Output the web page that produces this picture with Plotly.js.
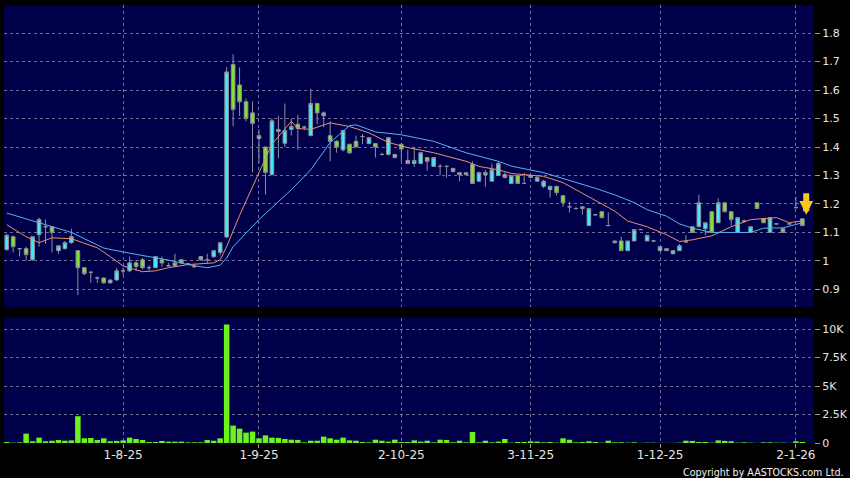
<!DOCTYPE html>
<html>
<head>
<meta charset="utf-8">
<script src="https://cdn.plot.ly/plotly-3.0.1.min.js"></script>
<style>html,body{margin:0;padding:0;background:#000;}#chart{width:850px;height:478px;}</style>
</head>
<body>
<div id="chart"></div>
<script>
// Trading dates (HK) shown on the chart
const dates = [
'2025-07-08','2025-07-09','2025-07-10','2025-07-11',
'2025-07-14','2025-07-15','2025-07-16','2025-07-17','2025-07-18',
'2025-07-21','2025-07-22','2025-07-23','2025-07-24','2025-07-25',
'2025-07-28','2025-07-29','2025-07-30','2025-07-31',
'2025-08-01',
'2025-08-04','2025-08-05','2025-08-06','2025-08-07','2025-08-08',
'2025-08-11','2025-08-12','2025-08-13','2025-08-14','2025-08-15',
'2025-08-18','2025-08-19','2025-08-20','2025-08-21','2025-08-22',
'2025-08-25','2025-08-26','2025-08-27','2025-08-28','2025-08-29',
'2025-09-01','2025-09-02','2025-09-03','2025-09-04','2025-09-05',
'2025-09-08','2025-09-09','2025-09-10','2025-09-11','2025-09-12',
'2025-09-15','2025-09-16','2025-09-17','2025-09-18','2025-09-19',
'2025-09-22','2025-09-23','2025-09-24','2025-09-25','2025-09-26',
'2025-09-29','2025-09-30',
'2025-10-02','2025-10-03','2025-10-06','2025-10-08','2025-10-09','2025-10-10',
'2025-10-13','2025-10-14','2025-10-15','2025-10-16','2025-10-17',
'2025-10-20','2025-10-21','2025-10-22','2025-10-23','2025-10-24',
'2025-10-27','2025-10-28','2025-10-30','2025-10-31',
'2025-11-03','2025-11-04','2025-11-05','2025-11-06','2025-11-07',
'2025-11-10','2025-11-11','2025-11-12','2025-11-13','2025-11-14',
'2025-11-17','2025-11-18','2025-11-19','2025-11-20','2025-11-21',
'2025-11-24','2025-11-25','2025-11-26','2025-11-27','2025-11-28',
'2025-12-01','2025-12-02','2025-12-03','2025-12-04','2025-12-05',
'2025-12-08','2025-12-09','2025-12-10','2025-12-11','2025-12-12',
'2025-12-15','2025-12-16','2025-12-17','2025-12-18','2025-12-19',
'2025-12-22','2025-12-23','2025-12-24','2025-12-29','2025-12-30','2025-12-31',
'2026-01-02','2026-01-05'
];

const open = [
1.040,1.085,1.043,1.043,1.004,1.092,1.120,1.120,1.036,1.043,
1.064,1.036,0.976,0.960,0.940,0.940,0.923,0.933,0.965,0.965,
0.993,1.004,0.976,0.976,1.004,0.983,0.983,1.004,0.990,0.980,
1.015,1.004,1.015,1.030,1.084,1.690,1.618,1.559,1.520,1.430,
1.400,1.303,1.455,1.413,1.462,1.480,1.470,1.440,1.553,1.520,
1.440,1.420,1.390,1.410,1.420,1.437,1.412,1.412,1.374,1.374,
1.374,1.410,1.353,1.342,1.342,1.363,1.332,1.332,1.332,1.325,
1.310,1.303,1.339,1.280,1.310,1.280,1.300,1.303,1.272,1.300,
1.272,1.300,1.280,1.262,1.250,1.262,1.229,1.190,1.184,1.184,
1.124,1.162,1.173,1.124,1.064,1.070,1.036,1.070,1.110,1.070,
1.070,1.036,1.043,1.025,1.036,1.067,1.120,1.120,1.113,1.173,
1.134,1.204,1.173,1.100,1.140,1.100,1.204,1.148,1.100,1.130,
1.113,1.130,1.187,1.148
];
const high = [
1.095,1.088,1.045,1.050,1.085,1.152,1.145,1.120,1.053,1.070,
1.113,1.036,0.976,0.962,0.945,0.940,0.933,0.976,0.976,1.015,
1.004,1.010,0.985,1.015,1.015,0.993,1.025,1.004,0.993,0.990,
1.015,1.025,1.036,1.064,1.680,1.726,1.680,1.570,1.560,1.462,
1.400,1.500,1.510,1.553,1.500,1.513,1.475,1.603,1.553,1.525,
1.490,1.425,1.460,1.410,1.440,1.445,1.433,1.412,1.380,1.433,
1.374,1.410,1.390,1.400,1.380,1.363,1.363,1.340,1.335,1.325,
1.310,1.310,1.350,1.314,1.320,1.342,1.350,1.310,1.300,1.300,
1.310,1.300,1.300,1.285,1.262,1.262,1.229,1.208,1.190,1.190,
1.184,1.165,1.173,1.170,1.070,1.085,1.070,1.110,1.112,1.090,
1.072,1.050,1.043,1.036,1.060,1.090,1.120,1.233,1.134,1.173,
1.220,1.204,1.173,1.152,1.145,1.120,1.204,1.150,1.152,1.132,
1.113,1.132,1.225,1.148
];
const low = [
1.035,1.030,1.015,1.000,1.000,1.050,1.060,1.030,1.025,1.040,
1.060,0.880,0.950,0.923,0.923,0.920,0.920,0.930,0.950,0.960,
0.965,0.970,0.965,0.975,0.980,0.980,0.980,0.990,0.985,0.975,
1.000,0.993,1.010,1.020,1.080,1.473,1.509,1.490,1.311,1.345,
1.233,1.300,1.360,1.400,1.440,1.390,1.460,1.440,1.480,1.470,
1.350,1.380,1.385,1.375,1.400,1.410,1.410,1.363,1.370,1.370,
1.360,1.350,1.340,1.330,1.340,1.317,1.330,1.300,1.293,1.310,
1.280,1.300,1.270,1.280,1.260,1.280,1.300,1.290,1.270,1.272,
1.272,1.290,1.280,1.255,1.222,1.230,1.190,1.170,1.180,1.162,
1.124,1.160,1.150,1.124,1.060,1.036,1.036,1.070,1.108,1.070,
1.068,1.036,1.036,1.025,1.036,1.065,1.100,1.120,1.090,1.100,
1.134,1.170,1.124,1.100,1.135,1.100,1.184,1.134,1.100,1.128,
1.100,1.128,1.187,1.124
];
const close = [
1.090,1.050,1.043,1.022,1.085,1.145,1.120,1.100,1.053,1.064,
1.085,0.976,0.955,0.960,0.940,0.923,0.933,0.965,0.965,0.993,
0.980,0.976,0.976,1.015,0.993,0.983,0.993,0.993,0.990,0.980,
1.004,1.004,1.036,1.064,1.664,1.532,1.559,1.500,1.483,1.440,
1.311,1.492,1.462,1.458,1.472,1.465,1.470,1.553,1.520,1.510,
1.420,1.400,1.458,1.380,1.400,1.437,1.433,1.400,1.374,1.433,
1.363,1.393,1.342,1.353,1.380,1.350,1.363,1.332,1.332,1.314,
1.303,1.310,1.272,1.310,1.303,1.320,1.342,1.293,1.300,1.272,
1.272,1.293,1.293,1.280,1.262,1.240,1.205,1.190,1.184,1.190,
1.184,1.162,1.152,1.124,1.070,1.036,1.070,1.110,1.110,1.090,
1.070,1.050,1.036,1.036,1.053,1.067,1.100,1.204,1.134,1.100,
1.204,1.173,1.145,1.152,1.140,1.120,1.184,1.134,1.152,1.130,
1.100,1.130,1.187,1.124
];
const volume = [
90,30,60,820,150,470,150,200,260,200,
230,2350,410,440,260,410,150,180,230,470,
350,260,90,90,180,120,120,120,60,60,
60,260,200,410,10400,1530,1260,910,1000,410,
670,470,450,350,290,270,60,200,200,560,
410,290,470,230,200,90,60,290,200,120,
290,90,90,230,120,200,60,290,260,60,
200,60,970,60,200,60,120,350,30,90,
90,150,120,60,90,30,410,290,60,90,
150,90,30,200,60,60,30,60,10,30,
30,10,10,10,30,200,180,90,90,30,
230,180,150,30,60,30,10,60,60,30,
30,10,150,90
];

// Moving averages (candle index -> value)
const maShortIdx = [0,3,5,7,10,14,16,18,21,23,25,28,32,33,34,36,39,41,44,45,47,50,53,56,59,62,66,71,73,76,78,83,86,88,91,94,96,99,102,104,106,109,112,115,119,121,123];
const maShortVal = [1.127,1.085,1.064,1.081,1.078,1.046,1.015,0.982,0.962,0.965,0.976,0.987,0.993,1.004,1.05,1.16,1.31,1.41,1.49,1.465,1.462,1.485,1.472,1.45,1.416,1.398,1.38,1.35,1.332,1.32,1.307,1.297,1.275,1.25,1.215,1.175,1.14,1.12,1.092,1.068,1.074,1.088,1.12,1.145,1.152,1.134,1.141];
const maLongIdx = [0,5,10,15,19,25,28,31,33,34,35,39,44,47,50,53,54,57,61,66,71,76,78,83,88,91,94,97,99,102,104,106,109,112,115,117,120,123];
const maLongVal = [1.168,1.134,1.10,1.045,1.027,1.003,0.987,0.976,0.985,1.01,1.05,1.145,1.25,1.32,1.416,1.475,1.478,1.453,1.443,1.42,1.38,1.35,1.333,1.31,1.277,1.255,1.232,1.205,1.18,1.157,1.13,1.115,1.10,1.10,1.10,1.115,1.116,1.134];

const tickDates = ['2025-08-01','2025-09-01','2025-10-02','2025-11-03','2025-12-01','2026-01-02'];
const tickLabels = ['1-8-25','1-9-25','2-10-25','3-11-25','1-12-25','2-1-26'];
const priceTicks = [0.9,1.0,1.1,1.2,1.3,1.4,1.5,1.6,1.7,1.8];
const priceLabels = ['0.9','1','1.1','1.2','1.3','1.4','1.5','1.6','1.7','1.8'];
const volTicks = [0,2500,5000,7500,10000];
const volLabels = ['0','2.5K','5K','7.5K','10K'];

const gridColor = 'rgba(150,150,175,0.75)';
const tickFont = {family:'DejaVu Sans, Verdana, sans-serif', size:11, color:'#e6e6e6'};

const traces = [
  {
    type:'candlestick', x:dates, open:open, high:high, low:low, close:close,
    xaxis:'x2', yaxis:'y2', hoverinfo:'skip',
    increasing:{line:{color:'#8f8f9a', width:1}, fillcolor:'#40ecf8'},
    decreasing:{line:{color:'#8f8f9a', width:1}, fillcolor:'#80e42a'},
    whiskerwidth:0, showlegend:false
  },
  {
    type:'scatter', mode:'lines', x:maShortIdx.map(i=>dates[i]), y:maShortVal,
    xaxis:'x2', yaxis:'y2', line:{color:'#e8926a', width:1}, hoverinfo:'skip', showlegend:false
  },
  {
    type:'scatter', mode:'lines', x:maLongIdx.map(i=>dates[i]), y:maLongVal,
    xaxis:'x2', yaxis:'y2', line:{color:'#5ab2ee', width:1}, hoverinfo:'skip', showlegend:false
  },
  {
    type:'bar', x:dates, y:volume, xaxis:'x', yaxis:'y',
    marker:{color:'#6cf21c', line:{width:0}}, hoverinfo:'skip', showlegend:false
  }
];

const xBase = {
  type:'category', categoryorder:'array', categoryarray:dates,
  range:[-0.42,124.8], tickmode:'array', tickvals:tickDates, ticktext:tickLabels,
  showgrid:true, gridcolor:gridColor, griddash:'3px,3px', gridwidth:1,
  zeroline:false, showline:false, fixedrange:true
};

const layout = {
  width:850, height:478,
  margin:{l:4, r:36, t:5, b:35},
  paper_bgcolor:'#000000', plot_bgcolor:'#00004a',
  bargap:0.15, boxgap:0.2,
  xaxis: Object.assign({}, xBase, {anchor:'y', ticks:'outside', ticklen:4, tickcolor:'#9a9a9a',
    ticklabelstandoff:-3,
    tickfont:{family:'DejaVu Sans, Verdana, sans-serif', size:12, color:'#e6e6e6'}, rangeslider:{visible:false}}),
  xaxis2: Object.assign({}, xBase, {anchor:'y2', showticklabels:false, ticks:'', rangeslider:{visible:false}}),
  yaxis: {domain:[0,0.2854], range:[0,10970], side:'right', tickmode:'array', tickvals:volTicks, ticktext:volLabels,
    ticks:'outside', ticklen:5, tickcolor:'#9a9a9a', tickfont:tickFont,
    showgrid:true, gridcolor:gridColor, griddash:'3px,3px', zeroline:false, showline:false, automargin:false, fixedrange:true},
  yaxis2: {domain:[0.3105,1], range:[0.838,1.899], side:'right', tickmode:'array', tickvals:priceTicks, ticktext:priceLabels,
    ticks:'outside', ticklen:5, tickcolor:'#9a9a9a', tickfont:tickFont,
    showgrid:true, gridcolor:gridColor, griddash:'3px,3px', zeroline:false, showline:false, automargin:false, fixedrange:true},
  annotations:[
    {xref:'x2', yref:'y2', x:123.6, y:1.162, text:'', showarrow:true, ax:0, ay:-23,
     arrowhead:2, arrowsize:0.46, arrowwidth:6, arrowcolor:'#f6c81c'},
    {xref:'paper', yref:'paper', x:1.0395, y:-0.0662, xanchor:'right', yanchor:'middle', showarrow:false,
     text:'Copyright by AASTOCKS.com Ltd.',
     font:{family:'DejaVu Sans Condensed, Liberation Sans Narrow, sans-serif', size:10.6, color:'#f0f0f0'}}
  ],
  showlegend:false
};

Plotly.newPlot('chart', traces, layout, {displayModeBar:false, staticPlot:true});
</script>
</body>
</html>
